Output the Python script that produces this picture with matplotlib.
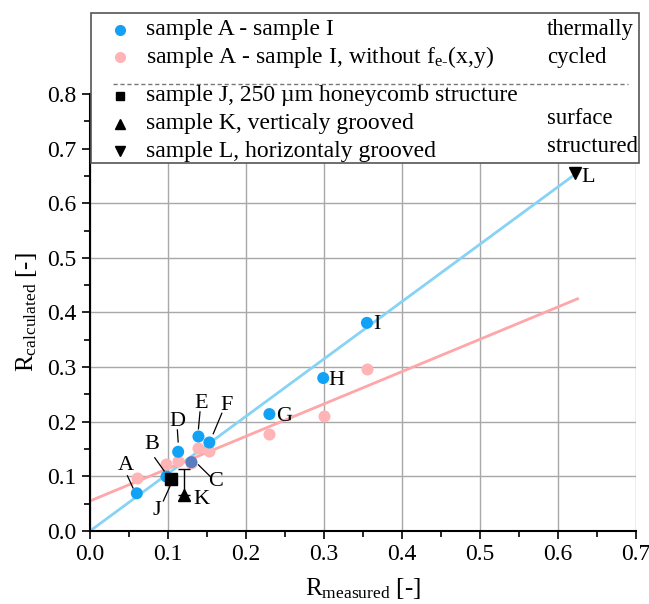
import matplotlib.pyplot as plt
from matplotlib.patches import Rectangle
from matplotlib.lines import Line2D
import numpy as np

plt.rcParams['font.family'] = 'Liberation Serif'
plt.rcParams['mathtext.fontset'] = 'custom'
plt.rcParams['mathtext.rm'] = 'Liberation Serif'
plt.rcParams['mathtext.it'] = 'Liberation Serif:italic'

# ---- data ----
labels = ['A', 'B', 'C', 'D', 'E', 'F', 'G', 'H', 'I']
r_meas = [0.060, 0.098, 0.130, 0.113, 0.139, 0.153, 0.230, 0.299, 0.355]
r_calc = [0.069, 0.0995, 0.126, 0.145, 0.173, 0.162, 0.214, 0.280, 0.381]
r_meas_nofe = [0.060, 0.098, 0.130, 0.113, 0.139, 0.153, 0.230, 0.300, 0.355]
r_calc_nofe = [0.097, 0.123, 0.125, 0.128, 0.151, 0.1465, 0.178, 0.210, 0.297]

j_meas, j_calc = [0.104], [0.095]
k_meas, k_calc, k_err_up = [0.120], [0.066], [0.047]
l_meas, l_calc = [0.622], [0.655]

# linear fits shown in the chart (slope, intercept, x range end)
fit_blue = (1.05, 0.0)
fit_pink = (0.592, 0.055)
fit_xmax = 0.625

blue = '#12a2f5'
pink = '#ffb4b6'
c_color = '#5a7cc0'

fig = plt.figure(figsize=(6.49, 6.04), dpi=100)
ax = fig.add_axes([0.1387, 0.1209, 0.8413, 0.7235])

xf = np.array([0.0, fit_xmax])
ax.plot(xf, fit_blue[0] * xf + fit_blue[1], color='#87d3f5', lw=2, zorder=2)
ax.plot(xf, fit_pink[0] * xf + fit_pink[1], color='#ffa6a8', lw=2, zorder=2)

ax.scatter(r_meas_nofe, r_calc_nofe, s=75, color=pink, zorder=3, linewidths=0)
cols = [c_color if l == 'C' else blue for l in labels]
ax.scatter(r_meas, r_calc, s=75, color=cols, zorder=4, linewidths=0)

ax.plot(j_meas, j_calc, 's', color='black', ms=8, zorder=5)
ax.errorbar(k_meas, k_calc, yerr=[[0], k_err_up], fmt='^', color='black',
            ms=9, elinewidth=1, capsize=4, capthick=1, zorder=5)
ax.plot(l_meas, l_calc, 'v', color='black', ms=9, zorder=5)

# point labels with leader lines
fs = 16
leaders = {
    'A': ((0.046, 0.119), (0.048, 0.101), (0.055, 0.079)),
    'B': ((0.079, 0.159), (0.083, 0.134), (0.095, 0.110)),
    'C': ((0.1615, 0.090), (0.139, 0.121), (0.154, 0.100)),
    'D': ((0.112, 0.200), (0.112, 0.185), (0.113, 0.163)),
    'E': ((0.143, 0.234), (0.141, 0.218), (0.139, 0.187)),
    'F': ((0.175, 0.229), (0.169, 0.2155), (0.158, 0.178)),
    'J': ((0.086, 0.038), (0.094, 0.055), (0.1026, 0.082)),
}
for name, (tp, p0, p1) in leaders.items():
    ax.text(tp[0], tp[1], name, fontsize=fs, ha='center', va='center', zorder=6)
    ax.plot([p0[0], p1[0]], [p0[1], p1[1]], color='black', lw=0.9, zorder=6)

for name, (x, y) in {'G': (0.238, 0.209), 'H': (0.306, 0.275), 'I': (0.363, 0.378),
                     'K': (0.132, 0.058), 'L': (0.630, 0.648)}.items():
    ax.text(x, y, name, fontsize=fs, ha='left', va='center', zorder=6)

ax.set_xlim(0, 0.7)
ax.set_ylim(0, 0.8)
ax.set_xticks(np.arange(0, 0.71, 0.1))
ax.set_yticks(np.arange(0, 0.81, 0.1))
ax.set_xticks(np.arange(0.05, 0.7, 0.1), minor=True)
ax.set_yticks(np.arange(0.05, 0.8, 0.1), minor=True)
ax.xaxis.set_major_formatter(plt.FormatStrFormatter('%.1f'))
ax.yaxis.set_major_formatter(plt.FormatStrFormatter('%.1f'))
ax.tick_params(which='major', direction='out', length=6, width=1.2, labelsize=17)
ax.tick_params(which='minor', direction='out', length=4, width=1.2)
ax.grid(True, color='#a8a8a8', lw=1)
ax.set_axisbelow(True)
for s in ['top', 'right']:
    ax.spines[s].set_visible(False)
for s in ['left', 'bottom']:
    ax.spines[s].set_linewidth(1.5)

ax.set_xlabel(r'$\mathrm{R}_{\mathrm{measured}}$ [-]', fontsize=18, labelpad=8)
ax.set_ylabel(r'$\mathrm{R}_{\mathrm{calculated}}$ [-]', fontsize=18, labelpad=6)

# ---- custom legend box (figure pixel coords) ----
W, H = 649, 604
def fx(px): return px / W
def fy(py): return 1 - py / H

fig.patches.append(Rectangle((fx(91), fy(163)), fx(639) - fx(91), fy(13) - fy(163),
                             transform=fig.transFigure, facecolor='white',
                             edgecolor='#555555', lw=1.2, zorder=10))
entries = [
    (30, 'o', blue, 'sample A - sample I'),
    (57, 'o', pink, r'sample A - sample I, without f$_{\mathrm{e}\text{-}}$(x,y)'),
    (96, 's', 'black', 'sample J, 250 µm honeycomb structure'),
    (124, '^', 'black', 'sample K, verticaly grooved'),
    (151, 'v', 'black', 'sample L, horizontaly grooved'),
]
msz = {'o': 7, 's': 6, '^': 7.5, 'v': 7.5}
for py, m, c, t in entries:
    fig.add_artist(Line2D([fx(120)], [fy(py)], marker=m, color=c, ms=msz[m],
                          ls='none', transform=fig.transFigure, zorder=11))
    fig.text(fx(146), fy(py), t, fontsize=17, va='center', ha='left', zorder=11)
fig.add_artist(Line2D([fx(113), fx(628)], [fy(84), fy(84)], color='#777777', lw=1,
                      ls=(0, (3, 2)), transform=fig.transFigure, zorder=11))
for py, t in [(30, 'thermally'), (57, 'cycled'), (118, 'surface'), (146, 'structured')]:
    fig.text(fx(547), fy(py), t, fontsize=16.3, va='center', ha='left', zorder=11)

fig.savefig('out.png', dpi=100)
